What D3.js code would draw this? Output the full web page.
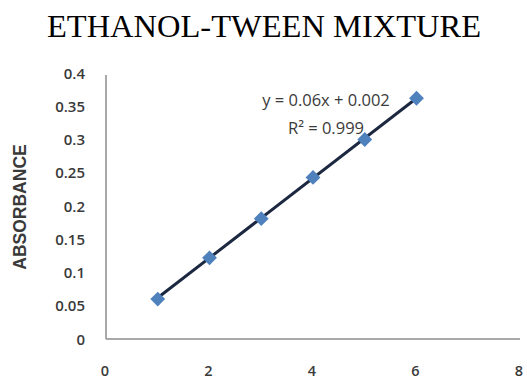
<!DOCTYPE html>
<html>
<head>
<meta charset="utf-8">
<script src="https://cdn.jsdelivr.net/npm/d3@7"></script>
<style>
  body { margin: 0; background: #fff; }
  text { font-family: "Open Sans", "Liberation Sans", sans-serif; }
</style>
</head>
<body>
<script>
// data
var concentration = [1, 2, 3, 4, 5, 6];
var absorbance = [0.06, 0.122, 0.181, 0.243, 0.3, 0.362];
var xTicks = [0, 2, 4, 6, 8];
var yTicks = [0, 0.05, 0.1, 0.15, 0.2, 0.25, 0.3, 0.35, 0.4];
var slope = 0.06, intercept = 0.002;

var width = 527, height = 381;

var svg = d3.select("body").append("svg")
    .attr("width", width)
    .attr("height", height);

var x = d3.scaleLinear().domain([0, 8]).range([106, 520]);
var y = d3.scaleLinear().domain([0, 0.4]).range([339, 73]);

// title
svg.append("text")
    .attr("x", 264).attr("y", 37)
    .attr("text-anchor", "middle")
    .style("font-family", "'Liberation Serif', 'Times New Roman', serif")
    .style("font-size", "32.5px")
    .text("ETHANOL-TWEEN MIXTURE");

// axes lines
svg.append("line")
    .attr("x1", x(0)).attr("x2", x(0))
    .attr("y1", y(0.4) + 2).attr("y2", y(0))
    .style("stroke", "#8c8c8c").style("stroke-width", 1.5);
svg.append("line")
    .attr("x1", x(0)).attr("x2", x(8))
    .attr("y1", y(0)).attr("y2", y(0))
    .style("stroke", "#8c8c8c").style("stroke-width", 1.5);

// tick labels
svg.selectAll(".ytick").data(yTicks).enter().append("text")
    .attr("class", "ytick")
    .attr("x", 85).attr("y", function(d) { return y(d) + 5.5; })
    .attr("text-anchor", "end")
    .style("font-size", "15px").style("font-weight", "600").style("fill", "#3a3a3a")
    .text(function(d) { return d; });

svg.selectAll(".xtick").data(xTicks).enter().append("text")
    .attr("class", "xtick")
    .attr("x", function(d) { return x(d) - 1; }).attr("y", 376)
    .attr("text-anchor", "middle")
    .style("font-size", "14.5px").style("font-weight", "600").style("fill", "#3a3a3a")
    .text(function(d) { return d; });

// y label
svg.append("text")
    .attr("transform", "translate(26,207) rotate(-90)")
    .attr("text-anchor", "middle")
    .style("font-family", "'Liberation Sans', sans-serif")
    .style("font-size", "17.5px").style("font-weight", "bold").style("fill", "#3a3a3a")
    .text("ABSORBANCE");

// trendline
svg.append("line")
    .attr("x1", x(1)).attr("y1", y(slope * 1 + intercept))
    .attr("x2", x(6)).attr("y2", y(slope * 6 + intercept))
    .style("stroke", "#1c2740").style("stroke-width", 3);

// markers: rotated squares
var sym = d3.symbol().type(d3.symbolSquare).size(110);
svg.selectAll(".pt").data(concentration).enter().append("path")
    .attr("class", "pt")
    .attr("d", sym)
    .attr("transform", function(d, i) { return "translate(" + x(d) + "," + y(absorbance[i]) + ") rotate(45)"; })
    .style("fill", "#4f81bd");

// equation
svg.append("text")
    .attr("x", 326).attr("y", 106)
    .attr("text-anchor", "middle")
    .style("font-size", "16.5px").style("fill", "#3a3a3a")
    .text("y = 0.06x + 0.002");
svg.append("text")
    .attr("x", 326).attr("y", 134)
    .attr("text-anchor", "middle")
    .style("font-size", "16.5px").style("fill", "#3a3a3a")
    .text("R² = 0.999");
</script>
</body>
</html>
